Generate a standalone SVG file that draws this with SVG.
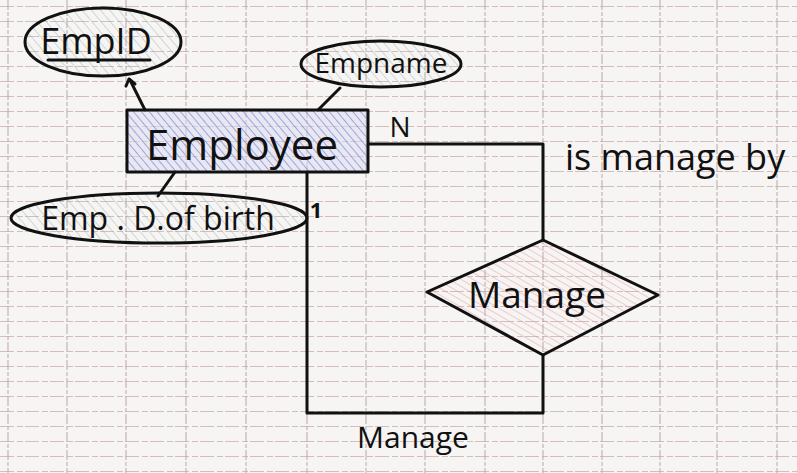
<svg xmlns="http://www.w3.org/2000/svg" width="797" height="473" viewBox="0 0 797 473">
  <defs>
    <!-- squared paper: faint rows every 15px, columns roughly every 59px -->
    <pattern id="rows" x="0" y="6" width="797" height="15" patternUnits="userSpaceOnUse">
      <line x1="0" y1="0.5" x2="797" y2="0.5" stroke="#c4a6a4" stroke-width="1.1" stroke-dasharray="14 3 6 2" opacity="0.7"/>
    </pattern>
    <pattern id="hatchBlue" width="6" height="6" patternUnits="userSpaceOnUse" patternTransform="rotate(-40)">
      <line x1="0" y1="0" x2="0" y2="6" stroke="#6f74cc" stroke-width="1.6" opacity="0.75"/>
    </pattern>
    <pattern id="hatchGreen" width="7" height="7" patternUnits="userSpaceOnUse" patternTransform="rotate(-40)">
      <line x1="0" y1="0" x2="0" y2="7" stroke="#8fb0a8" stroke-width="1.2" opacity="0.7"/>
    </pattern>
    <pattern id="hatchPink" width="6" height="6" patternUnits="userSpaceOnUse" patternTransform="rotate(-60)">
      <line x1="0" y1="0" x2="0" y2="6" stroke="#e0939b" stroke-width="1.2" opacity="0.75"/>
    </pattern>
  </defs>
  <style>
    .ink { fill: none; stroke: #111; stroke-width: 3; stroke-linecap: round; stroke-linejoin: round; }
    .hand { font-family: "Open Sans", "DejaVu Sans", sans-serif; fill: #111; }
    .col { stroke: #b9a3a6; stroke-width: 1.1; stroke-dasharray: 10 2 4 2; opacity: 0.85; }
  </style>

  <!-- paper -->
  <rect width="797" height="473" fill="#f7f5f4"/>
  <rect width="797" height="473" fill="url(#rows)"/>
  <g id="grid-columns">
    <line class="col" x1="8" y1="0" x2="8" y2="473"/>
    <line class="col" x1="67" y1="0" x2="67" y2="473"/>
    <line class="col" x1="126" y1="0" x2="126" y2="473"/>
    <line class="col" x1="186" y1="0" x2="186" y2="473"/>
    <line class="col" x1="246" y1="0" x2="246" y2="473"/>
    <line class="col" x1="307" y1="0" x2="307" y2="473"/>
    <line class="col" x1="366" y1="0" x2="366" y2="473"/>
    <line class="col" x1="425" y1="0" x2="425" y2="473"/>
    <line class="col" x1="485" y1="0" x2="485" y2="473"/>
    <line class="col" x1="543" y1="0" x2="543" y2="473"/>
    <line class="col" x1="602" y1="0" x2="602" y2="473"/>
    <line class="col" x1="660" y1="0" x2="660" y2="473"/>
    <line class="col" x1="717" y1="0" x2="717" y2="473"/>
    <line class="col" x1="777" y1="0" x2="777" y2="473"/>
  </g>

  <!-- connectors -->
  <g id="connectors">
    <line class="ink" x1="145" y1="110" x2="130" y2="80"/>
    <path class="ink" d="M126 86 L129 79 L135 84" stroke-width="2.5"/>
    <line class="ink" x1="318" y1="110" x2="340" y2="88"/>
    <line class="ink" x1="175" y1="172" x2="158" y2="196"/>
    <polyline class="ink" points="368,144 543,144 543,240"/>
    <polyline class="ink" points="543,355 543,413 307,413 307,172"/>
  </g>

  <!-- attributes -->
  <g id="empid">
    <ellipse cx="103" cy="42" rx="78" ry="34" fill="url(#hatchGreen)"/>
    <ellipse class="ink" cx="103" cy="42" rx="78" ry="34"/>
    <text class="hand" x="96" y="54" font-size="36" text-anchor="middle">EmpID</text>
    <line class="ink" x1="48" y1="60" x2="150" y2="60"/>
  </g>

  <g id="empname">
    <ellipse cx="381" cy="64" rx="80" ry="23" fill="url(#hatchGreen)"/>
    <ellipse class="ink" cx="381" cy="64" rx="80" ry="23"/>
    <text class="hand" x="381" y="73" font-size="28" text-anchor="middle">Empname</text>
  </g>

  <g id="emp-dob">
    <ellipse cx="159" cy="218" rx="148" ry="25" fill="url(#hatchGreen)"/>
    <ellipse class="ink" cx="159" cy="218" rx="148" ry="25"/>
    <text class="hand" x="158" y="230" font-size="32" text-anchor="middle">Emp . D.of birth</text>
  </g>

  <!-- entity -->
  <g id="employee">
    <rect x="127" y="110" width="241" height="62" fill="#d9dcf2" opacity="0.5"/>
    <rect x="127" y="110" width="241" height="62" fill="url(#hatchBlue)"/>
    <rect class="ink" x="127" y="110" width="241" height="62"/>
    <text class="hand" x="242" y="160" font-size="42" text-anchor="middle">Employee</text>
  </g>

  <!-- relationship -->
  <g id="manage">
    <polygon points="543,240 658,295 543,355 427,292" fill="url(#hatchPink)"/>
    <polygon class="ink" points="543,240 658,295 543,355 427,292"/>
    <text class="hand" x="537" y="308" font-size="37" text-anchor="middle">Manage</text>
  </g>

  <!-- cardinalities and role labels -->
  <g id="labels">
    <text class="hand" x="400" y="137" font-size="28" text-anchor="middle">N</text>
    <text class="hand" x="316" y="218" font-size="22" font-weight="bold" text-anchor="middle">1</text>
    <text class="hand" x="565" y="170" font-size="36">is manage by</text>
    <text class="hand" x="413" y="448" font-size="30" text-anchor="middle">Manage</text>
  </g>
</svg>
